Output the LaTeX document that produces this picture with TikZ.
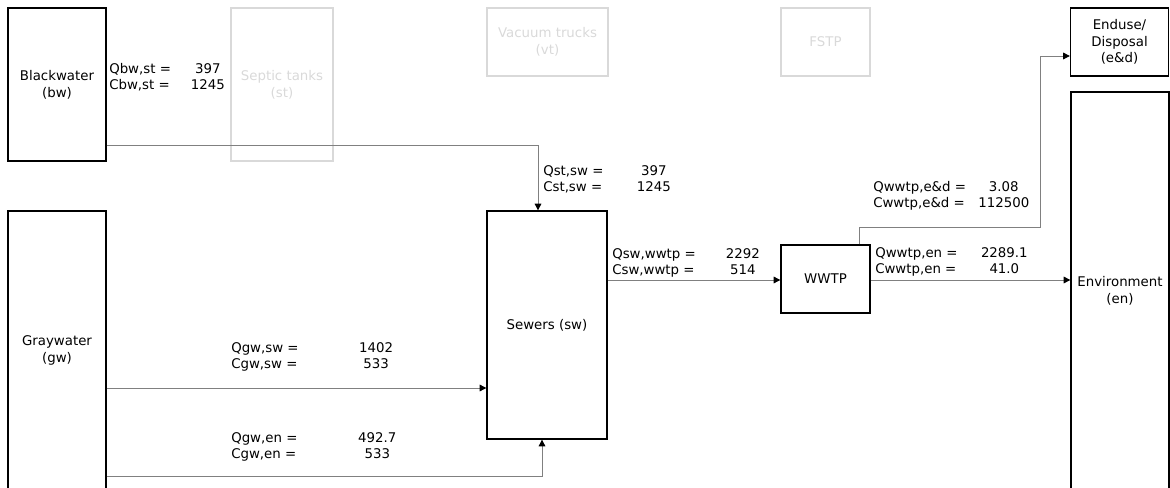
\documentclass[tikz,border=0pt]{standalone}
\usepackage{fontspec}
\setmainfont{DejaVu Sans}
\usetikzlibrary{arrows.meta,calc}
\usepackage{xcolor}
\definecolor{flowGray}{HTML}{808080}
\definecolor{ghostGray}{HTML}{D9D9D9}
\newcommand{\qcpair}[5]{\makebox[#1][l]{#2}\makebox[0pt]{#3}\\\makebox[#1][l]{#4}\makebox[0pt]{#5}}

\begin{document}
\begin{tikzpicture}[x=0.75pt,y=-0.75pt,>={Triangle[length=5pt,width=5pt,color=black]}]
\tikzstyle{stage}=[draw=black,line width=1pt,align=center,inner sep=0pt,font=\linespread{1.05}\selectfont]
\tikzstyle{ghost}=[stage,draw=ghostGray,text=ghostGray]
\tikzstyle{flow}=[->,draw=flowGray,line width=.7pt]
\tikzstyle{tag}=[anchor=west,align=left,inner sep=0pt]
\useasboundingbox (0,0) rectangle (1170,488);
% sources
\node[stage,minimum width=98*0.75pt,minimum height=153*0.75pt] (bw) at (57,84.5) {Blackwater\\(bw)};
\node[stage,minimum width=98*0.75pt,minimum height=279*0.75pt] (gw) at (57,350.5) {Graywater\\(gw)};
% faded stages
\node[ghost,minimum width=102*0.75pt,minimum height=153*0.75pt] (st) at (282,84.5) {Septic tanks\\(st)};
\node[ghost,minimum width=121*0.75pt,minimum height=68*0.75pt] (vt) at (547.5,42) {Vacuum trucks\\(vt)};
\node[ghost,minimum width=89*0.75pt,minimum height=68*0.75pt] (fstp) at (825.5,42) {FSTP};
% treatment and sinks
\node[stage,minimum width=120*0.75pt,minimum height=228*0.75pt] (sw) at (547,325) {Sewers (sw)};
\node[stage,minimum width=89*0.75pt,minimum height=68*0.75pt] (wwtp) at (825.5,279) {WWTP};
\node[stage,minimum width=98*0.75pt,minimum height=68*0.75pt] (ed) at (1119.5,42) {Enduse/\\Disposal\\(e\&d)};
\node[stage,minimum width=98*0.75pt,minimum height=398*0.75pt] (en) at (1120,291) {Environment\\(en)};
% flows
\draw[flow] (bw.east |- 0,145) -| ($(sw.north)+(-9,0)$);
\draw[flow] (gw.east |- 0,388) -- (sw.west |- 0,388);
\draw[flow] (gw.east |- 0,476) -| ($(sw.south)+(-5,0)$);
\draw[flow] (sw.east |- 0,280) -- (wwtp.west |- 0,280);
\draw[flow] (wwtp.east |- 0,280) -- (en.west |- 0,280);
\draw[flow] ($(wwtp.north)+(33.5,0)$) |- (1040,227) |- (ed.west |- 0,56);
% flow data
\node[tag] (tbwst) at (109,77.5) {\qcpair{73.9pt}{Qbw,st =}{397}{Cbw,st =}{1245}};
\node[tag] (tstsw) at (543,179.5) {\qcpair{82.9pt}{Qst,sw =}{397}{Cst,sw =}{1245}};
\node[tag] (tgwsw) at (231,357) {\qcpair{108.7pt}{Qgw,sw =}{1402}{Cgw,sw =}{533}};
\node[tag] (tgwen) at (231,447) {\qcpair{109.5pt}{Qgw,en =}{492.7}{Cgw,en =}{533}};
\node[tag] (tswwwtp) at (612,263) {\qcpair{97.9pt}{Qsw,wwtp =}{2292}{Csw,wwtp =}{514}};
\node[tag] (twwtpen) at (875,262) {\qcpair{96.8pt}{Qwwtp,en =}{2289.1}{Cwwtp,en =}{41.0}};
\node[tag] (twwtped) at (873,195.5) {\qcpair{97.9pt}{Qwwtp,e\&d =}{3.08}{Cwwtp,e\&d =}{112500}};
\end{tikzpicture}
\end{document}
